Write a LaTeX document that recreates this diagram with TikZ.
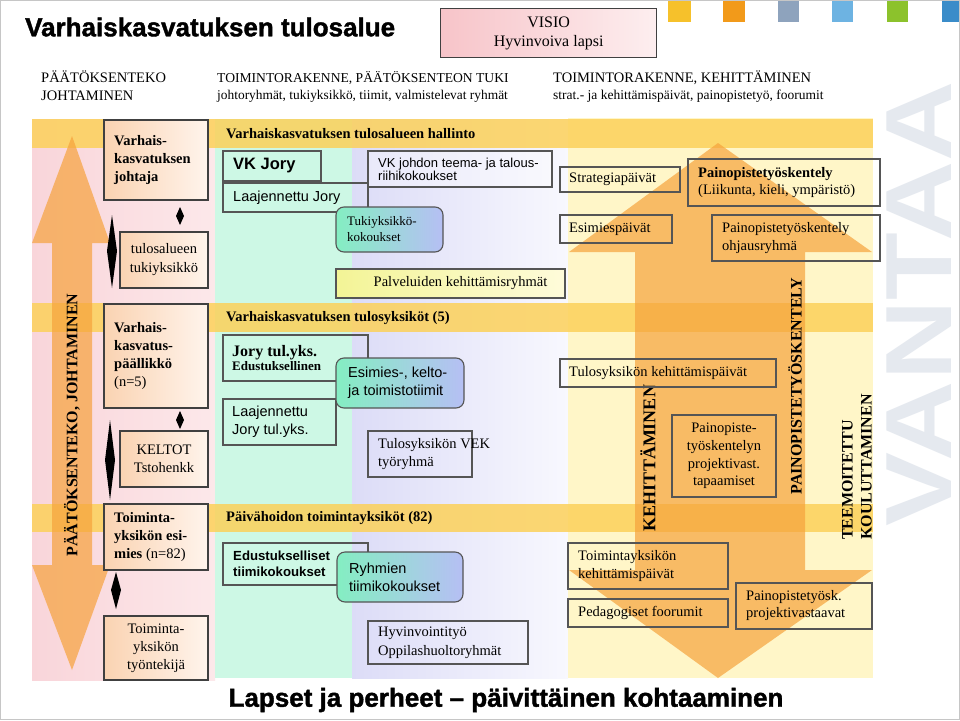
\documentclass[tikz,border=0pt]{standalone}
\usepackage{fontspec}
\setmainfont{Liberation Serif}
\newfontfamily\arialf{Liberation Sans}
\newfontfamily\blackf[FakeBold=1.5]{Liberation Sans}
\newcommand\fsz[2]{\fontsize{#1}{#2}\selectfont}
% left-aligned box: name, x, y, w, h, box style, text options, text
\newcommand\lbox[8]{%
  \node[#6, minimum width=#4pt, minimum height=#5pt, anchor=north west] (#1) at (#2,#3) {};
  \node[anchor=west, align=left, inner sep=0pt, #7] (#1t) at (#1.west) {#8};}
% centred box
\newcommand\cbox[8]{%
  \node[#6, minimum width=#4pt, minimum height=#5pt, anchor=north west] (#1) at (#2,#3) {};
  \node[anchor=center, align=center, inner sep=0pt, #7] (#1t) at (#1.center) {#8};}
\definecolor{pinkA}{HTML}{F9D5DA}
\definecolor{pinkB}{HTML}{FCE8EA}
\definecolor{mint}{HTML}{CDF8E5}
\definecolor{lavA}{HTML}{DCDCF7}
\definecolor{lavB}{HTML}{F8F8FE}
\definecolor{cream}{HTML}{FFF6C8}
\definecolor{bandc}{HTML}{FCD15A}
\definecolor{arrowc}{HTML}{F6A23C}
\definecolor{edge}{HTML}{404040}
\definecolor{edgeg}{HTML}{555555}
\definecolor{peachA}{HTML}{FAD3B2}
\definecolor{peachB}{HTML}{FFF4EC}
\definecolor{rgA}{HTML}{84EEC2}
\definecolor{rgB}{HTML}{B6BFF4}
\definecolor{ylA}{HTML}{F3F496}
\definecolor{ylB}{HTML}{FEFBDA}
\definecolor{visA}{HTML}{F7C4C9}
\definecolor{visB}{HTML}{FDEEEF}
\definecolor{wmark}{HTML}{E5E9EF}
\definecolor{sqA}{HTML}{F6C12B}
\definecolor{sqB}{HTML}{F29A1A}
\definecolor{sqC}{HTML}{8EA3BD}
\definecolor{sqD}{HTML}{6DB3E2}
\definecolor{sqE}{HTML}{8CC22C}
\definecolor{sqF}{HTML}{3A8CC9}
\begin{document}
\begin{tikzpicture}[x=1pt,y=-1pt,
  lb/.style={draw=edge, line width=1.3pt, left color=peachA, right color=peachB, outer sep=0pt},
  mb/.style={draw=edgeg, line width=1.1pt, outer sep=0pt},
  rb/.style={mb, rounded corners=8pt, left color=rgA, right color=rgB},
  yb/.style={mb, left color=ylA, right color=ylB},
  ser/.style={font=\fsz{14.5}{18}},
  sans/.style={font=\arialf\fsz{14.5}{18}},
  band/.style={fill=bandc, opacity=.85},
  bigarrow/.style={fill=arrowc, opacity=.7},
  diam/.style={fill=black},
  vlabel/.style={rotate=90, inner sep=0pt}
]
\useasboundingbox (0,0) rectangle (960,720);
\fill[white] (0,0) rectangle (960,720);

% ---- backgrounds
\fill[left color=pinkA, right color=pinkB] (32,119) rectangle (215,680);
\fill[mint] (215,119) rectangle (352,678);
\fill[left color=lavA, right color=lavB] (352,119) rectangle (568,678);
\fill[cream] (568,118) rectangle (873,678);

% ---- watermark
\node[rotate=90, anchor=south west, inner sep=0pt, text=wmark, font=\arialf\bfseries\fsz{94}{100}] (wm) at (952,527) {\scalebox{1.18}[1]{VANTAA}};

% ---- bands
\fill[band] (32,119) rectangle (873,148);
\fill[band] (32,303) rectangle (873,332);
\fill[band] (32,504) rectangle (873,532);

% ---- big arrows
\fill[bigarrow] (72,136) -- (110,243) -- (92,243) -- (92,565) -- (110,565) -- (72,670) -- (32,565) -- (52,565) -- (52,243) -- (32,243) -- cycle;
\fill[bigarrow] (718,143) -- (872,252) -- (805,252) -- (805,570) -- (872,570) -- (718,678) -- (569,570) -- (635,570) -- (635,252) -- (569,252) -- cycle;

% ---- header
\node[anchor=west, inner sep=0pt, font=\blackf\bfseries\fsz{26}{28}] (title) at (25,27) {Varhaiskasvatuksen tulosalue};
\node[draw=edge, line width=1.3pt, left color=visA, right color=visB, minimum width=216pt, minimum height=49pt, anchor=north west, align=center, font=\fsz{16}{19}] (visio) at (440,8) {VISIO\\Hyvinvoiva lapsi};
\fill[sqA] (668,0) rectangle (691,22);
\fill[sqB] (723,0) rectangle (745,22);
\fill[sqC] (778,0) rectangle (799,22);
\fill[sqD] (832,0) rectangle (853,22);
\fill[sqE] (887,0) rectangle (908,22);
\fill[sqF] (942,0) rectangle (960,22);

\node[anchor=base west, inner sep=0pt, font=\fsz{14.5}{17}] (h1a) at (41,82) {PÄÄTÖKSENTEKO};
\node[anchor=base west, inner sep=0pt, font=\fsz{14.5}{17}] (h1b) at (41,100) {JOHTAMINEN};
\node[anchor=base west, inner sep=0pt, font=\fsz{13.6}{16}] (h2a) at (217,82) {TOIMINTORAKENNE, PÄÄTÖKSENTEON TUKI};
\node[anchor=base west, inner sep=0pt, font=\fsz{13.4}{16}] (h2b) at (217,99) {johtoryhmät, tukiyksikkö, tiimit, valmistelevat ryhmät};
\node[anchor=base west, inner sep=0pt, font=\fsz{14.5}{17}] (h3a) at (553,82) {TOIMINTORAKENNE, KEHITTÄMINEN};
\node[anchor=base west, inner sep=0pt, font=\fsz{13.5}{16}] (h3b) at (553,99) {strat.- ja kehittämispäivät, painopistetyö, foorumit};

% ---- rotated labels
\node[vlabel, font=\fsz{16}{18}\bfseries] (lblL) at (72,425) {PÄÄTÖKSENTEKO, JOHTAMINEN};
\node[vlabel, font=\fsz{18}{20}\bfseries] (lblK) at (648,458) {KEHITTÄMINEN};
\node[vlabel, font=\fsz{16}{18}\bfseries] (lblP) at (795,386) {PAINOPISTETYÖSKENTELY};
\node[vlabel, anchor=west, align=left, font=\fsz{16}{19}\bfseries] (lblT) at (857,540) {TEEMOITETTU\\KOULUTTAMINEN};

% ---- band titles
\node[anchor=west, inner sep=0pt, font=\fsz{14.5}{17}\bfseries] (t1) at (226,134) {Varhaiskasvatuksen tulosalueen hallinto};
\node[anchor=west, inner sep=0pt, font=\fsz{14.5}{17}\bfseries] (t2) at (226,318) {Varhaiskasvatuksen tulosyksiköt (5)};
\node[anchor=west, inner sep=0pt, font=\fsz{14.5}{17}\bfseries] (t3) at (226,518) {Päivähoidon toimintayksiköt (82)};

% ---- left column
\lbox{b1}{104}{120}{104}{80}{lb}{xshift=10pt, font=\fsz{14.5}{18}\bfseries}{Varhais-\\kasvatuksen\\johtaja}
\cbox{b2}{120}{232}{88}{56}{lb}{font=\fsz{14.5}{19}}{tulosalueen\\tukiyksikkö}
\lbox{b3}{104}{304}{104}{104}{lb}{xshift=10pt, font=\fsz{14.5}{18}}{\textbf{Varhais-}\\\textbf{kasvatus-}\\\textbf{päällikkö}\\(n=5)}
\cbox{b4}{120}{431}{88}{56}{lb}{font=\fsz{14.5}{18}}{KELTOT\\Tstohenkk}
\lbox{b5}{104}{504}{104}{66}{lb}{xshift=10pt, font=\fsz{14.5}{18}}{\textbf{Toiminta-}\\\textbf{yksikön esi-}\\\textbf{mies} (n=82)}
\cbox{b6}{104}{616}{104}{64}{lb}{font=\fsz{14.5}{18}}{Toiminta-\\yksikön\\työntekijä}

% diamonds
\fill[diam] (180,207) -- (184,216) -- (180,225) -- (176,216) -- cycle;
\fill[diam] (112,215) -- (117,251) -- (112,288) -- (107,251) -- cycle;
\fill[diam] (180,411) -- (184,420) -- (180,429) -- (176,420) -- cycle;
\fill[diam] (110,420) -- (115,460) -- (110,500) -- (105,460) -- cycle;
\fill[diam] (116,572) -- (121,590) -- (116,609) -- (111,590) -- cycle;

% ---- middle: hallinto
\lbox{m1}{223}{151}{98}{30}{mb}{xshift=10pt, font=\arialf\bfseries\fsz{16.5}{19}}{VK Jory}
\lbox{m2}{223}{183}{145}{29}{mb}{xshift=10pt, sans}{Laajennettu Jory}
\lbox{m3}{368}{151}{184}{36}{mb, fill=white, fill opacity=.35}{xshift=10pt, font=\arialf\fsz{13}{13}}{VK johdon teema- ja talous-\\riihikokoukset}
\lbox{m4}{336}{207}{107}{45}{rb}{xshift=11pt, font=\fsz{13}{16}}{Tukiyksikkö-\\kokoukset}
\cbox{m5}{336}{269}{229}{29}{yb}{xshift=10pt, ser}{Palveluiden kehittämisryhmät}

% ---- middle: tulosyksiköt
\lbox{m6}{223}{335}{145}{46}{mb}{xshift=9pt}{{\fsz{16}{18}\bfseries Jory tul.yks.}\\{\fsz{13}{16}\bfseries Edustuksellinen}}
\lbox{m7}{223}{399}{113}{46}{mb}{xshift=9pt, sans}{Laajennettu\\Jory tul.yks.}
\lbox{m8}{336}{358}{128}{50}{rb}{xshift=12pt, sans}{Esimies-, kelto-\\ja toimistotiimit}
\lbox{m9}{368}{431}{104}{46}{mb}{xshift=10pt, ser}{Tulosyksikön VEK\\työryhmä}

% ---- middle: päivähoito
\lbox{m10}{223}{543}{145}{42}{mb}{xshift=10pt, font=\arialf\bfseries\fsz{13.2}{16}}{Edustukselliset\\tiimikokoukset}
\lbox{m11}{337}{552}{126}{50}{rb}{xshift=12pt, sans}{Ryhmien\\tiimikokoukset}
\lbox{m12}{368}{621}{160}{43}{mb}{xshift=10pt, font=\fsz{14.5}{19}}{Hyvinvointityö\\Oppilashuoltoryhmät}

% ---- right column
\lbox{r1}{560}{167}{120}{25}{mb}{xshift=9pt, ser}{Strategiapäivät}
\lbox{r2}{688}{159}{192}{47}{mb}{xshift=10pt, font=\fsz{14.5}{16.5}}{\textbf{Painopistetyöskentely}\\(Liikunta, kieli, ympäristö)}
\lbox{r3}{560}{215}{112}{28}{mb}{xshift=9pt, ser}{Esimiespäivät}
\lbox{r4}{712}{215}{168}{46}{mb}{xshift=10pt, ser}{Painopistetyöskentely\\ohjausryhmä}
\lbox{r5}{560}{359}{216}{28}{mb}{xshift=9pt, ser}{Tulosyksikön kehittämispäivät}
\cbox{r6}{672}{415}{104}{82}{mb}{font=\fsz{14.5}{17.7}}{Painopiste-\\työskentelyn\\projektivast.\\tapaamiset}
\lbox{r7}{568}{543}{160}{46}{mb}{xshift=10pt, ser}{Toimintayksikön\\kehittämispäivät}
\lbox{r8}{568}{599}{160}{28}{mb}{xshift=10pt, ser}{Pedagogiset foorumit}
\lbox{r9}{736}{583}{136}{46}{mb}{xshift=10pt, font=\fsz{14.5}{17}}{Painopistetyösk.\\projektivastaavat}

% ---- bottom
\node[inner sep=0pt, font=\blackf\bfseries\fsz{26}{28}] (bottom) at (506,700) {Lapset ja perheet – päivittäinen kohtaaminen};

% frame
\draw[gray!45, line width=1pt] (0.5,0.5) rectangle (959.5,719.5);
\end{tikzpicture}
\end{document}
